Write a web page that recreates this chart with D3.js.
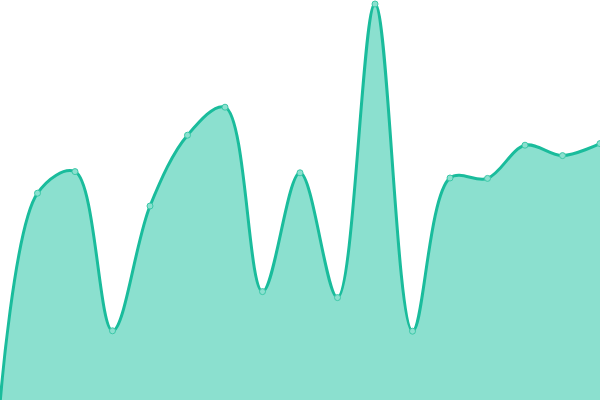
<!DOCTYPE html>
<html>
<head>
<meta charset="utf-8">
<script src="https://cdn.jsdelivr.net/npm/d3@7"></script>
<style>
  html, body { margin: 0; padding: 0; background: #fff; overflow: hidden; }
</style>
</head>
<body>
<div id="chart"></div>
<script>
// one value per evenly spaced step, 0..100 scale
const steps = d3.range(17);
const values = [-1, 51.7, 57.1, 17.3, 48.5, 66.2, 73.2, 27.1, 56.8, 25.6, 99, 17.2, 55.5, 55.4, 63.7, 61.1, 64.1];

const width = 600,
    height = 400;

const data = steps.map((s, i) => ({ step: s, value: values[i] }));

const x = d3.scaleLinear()
    .domain([0, steps.length - 1])
    .range([0, width]);

const y = d3.scaleLinear()
    .domain([0, 100])
    .range([height, 0]);

const svg = d3.select("#chart")
    .append("svg")
    .attr("width", width)
    .attr("height", height)
    .style("display", "block");

const curve = d3.curveCatmullRom.alpha(0.5);

svg.append("path")
    .datum(data)
    .attr("fill", "#8be0cf")
    .attr("d", d3.area()
        .x(d => x(d.step))
        .y0(height)
        .y1(d => y(d.value))
        .curve(curve));

svg.append("path")
    .datum(data)
    .attr("fill", "none")
    .attr("stroke", "#1abc9c")
    .attr("stroke-width", 3)
    .attr("d", d3.line()
        .x(d => x(d.step))
        .y(d => y(d.value))
        .curve(curve));

svg.append("g")
    .selectAll("circle")
    .data(data)
    .join("circle")
    .attr("cx", d => x(d.step))
    .attr("cy", d => y(d.value))
    .attr("r", 3)
    .attr("fill", "#8be0cf")
    .attr("stroke", "#3cc8a8")
    .attr("stroke-width", 1);
</script>
</body>
</html>
